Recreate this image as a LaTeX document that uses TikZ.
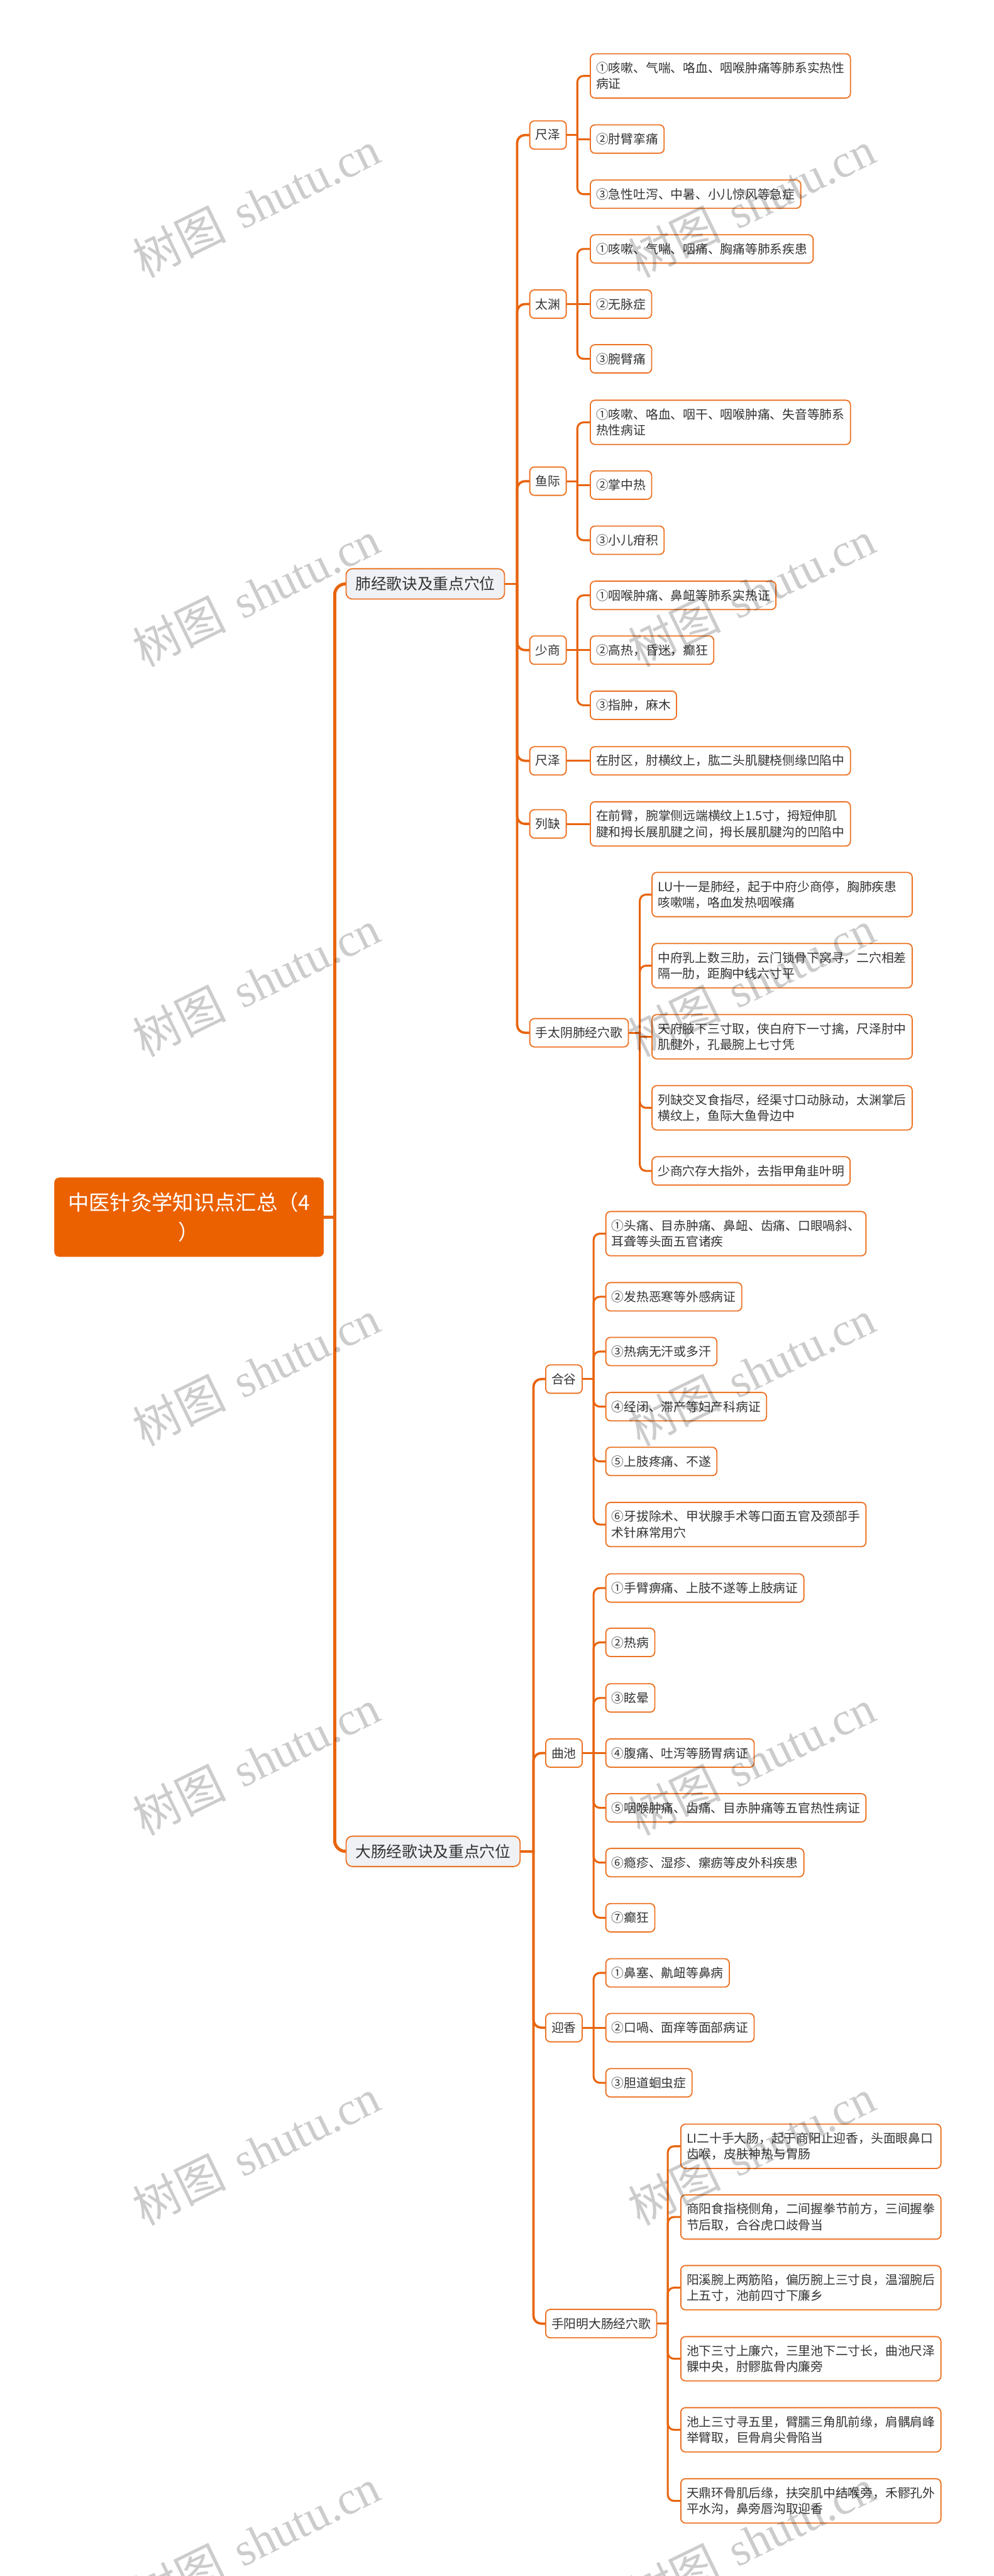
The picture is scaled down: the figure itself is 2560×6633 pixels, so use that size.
\documentclass[tikz,border=0pt]{standalone}
\usepackage{fontspec}
\setmainfont{Noto Sans CJK SC}
\newfontfamily\wmserif{Liberation Serif}
\usetikzlibrary{backgrounds}
\definecolor{lnc}{HTML}{E8640E}
\definecolor{bdc}{HTML}{EC7426}
\definecolor{rootc}{HTML}{EB6100}
\definecolor{mainc}{HTML}{EFF1F4}
\definecolor{txt}{HTML}{333333}
\newcommand{\conn}[4]{%
  \draw[#1] (#2.east) -- (#2.east -| #3);
  \draw[#1] (#2.east -| #3) |- (#4.west);
}
\begin{document}
\begin{tikzpicture}[x=0.5pt,y=-0.5pt,
  box/.style={draw=bdc, line width=1.5pt, fill=white, rounded corners=6pt, anchor=north west, inner xsep=7.5pt, inner ysep=0pt, text=txt, font=\fontsize{16pt}{20.5pt}\selectfont},
  leaf/.style={box, minimum height=36.5pt},
  leaftwo/.style={box, minimum height=57pt, text width=320pt, align=left},
  mainn/.style={box, fill=mainc, rounded corners=8pt, minimum height=39pt, inner xsep=12pt, font=\fontsize{20pt}{26pt}\selectfont},
  rootn/.style={draw=rootc, fill=rootc, rounded corners=6pt, anchor=north west, text=white, minimum width=346.5pt, minimum height=101.5pt, align=center, font=\fontsize{27pt}{37.5pt}\selectfont},
  cl1/.style={draw=lnc, line width=4pt, line cap=round, rounded corners=14pt},
  cl2/.style={draw=lnc, line width=3pt, line cap=round, rounded corners=10pt},
  cl3/.style={draw=lnc, line width=2.5pt, line cap=round, rounded corners=8pt},
  wm/.style={rotate=26, text=black, text opacity=0.2, font=\fontsize{60pt}{60pt}\selectfont}
]
\useasboundingbox (0,0) rectangle (2560,6633);

% root and main nodes
\node[rootn] (root) at (140,3032.25) {中医针灸学知识点汇总（4\\）};
\node[mainn] (fj) at (890,1463) {肺经歌诀及重点穴位};
\node[mainn] (dc) at (890,4726.5) {大肠经歌诀及重点穴位};

% ---- 肺经 ----
\node[leaf] (czA) at (1363,309.75) {尺泽};
\node[leaftwo] (czA1) at (1519,137) {①咳嗽、气喘、咯血、咽喉肿痛等肺系实热性\\病证};
\node[leaf] (czA2) at (1519,320) {②肘臂挛痛};
\node[leaf] (czA3) at (1519,462) {③急性吐泻、中暑、小儿惊风等急症};

\node[leaf] (ty) at (1363,745) {太渊};
\node[leaf] (ty1) at (1519,603) {①咳嗽、气喘、咽痛、胸痛等肺系疾患};
\node[leaf] (ty2) at (1519,745) {②无脉症};
\node[leaf] (ty3) at (1519,886) {③腕臂痛};

\node[leaf] (yj) at (1363,1201) {鱼际};
\node[leaftwo] (yj1) at (1519,1029) {①咳嗽、咯血、咽干、咽喉肿痛、失音等肺系\\热性病证};
\node[leaf] (yj2) at (1519,1211) {②掌中热};
\node[leaf] (yj3) at (1519,1353) {③小儿疳积};

\node[leaf] (ss) at (1363,1636) {少商};
\node[leaf] (ss1) at (1519,1495) {①咽喉肿痛、鼻衄等肺系实热证};
\node[leaf] (ss2) at (1519,1636) {②高热，昏迷，癫狂};
\node[leaf] (ss3) at (1519,1778) {③指肿，麻木};

\node[leaf] (czB) at (1363,1921) {尺泽};
\node[leaf] (czB1) at (1519,1921) {在肘区，肘横纹上，肱二头肌腱桡侧缘凹陷中};

\node[leaf] (lq) at (1363,2083.5) {列缺};
\node[leaftwo] (lq1) at (1519,2063) {在前臂，腕掌侧远端横纹上1.5寸，拇短伸肌\\腱和拇长展肌腱之间，拇长展肌腱沟的凹陷中};

\node[leaf] (sty) at (1363,2621.25) {手太阴肺经穴歌};
\node[leaftwo] (st1) at (1678,2245) {LU十一是肺经，起于中府少商停，胸肺疾患\\咳嗽喘，咯血发热咽喉痛};
\node[leaftwo] (st2) at (1678,2428) {中府乳上数三肋，云门锁骨下窝寻，二穴相差\\隔一肋，距胸中线六寸平};
\node[leaftwo] (st3) at (1678,2611) {天府腋下三寸取，侠白府下一寸擒，尺泽肘中\\肌腱外，孔最腕上七寸凭};
\node[leaftwo] (st4) at (1678,2794) {列缺交叉食指尽，经渠寸口动脉动，太渊掌后\\横纹上，鱼际大鱼骨边中};
\node[leaf] (st5) at (1678,2977) {少商穴存大指外，去指甲角韭叶明};

% ---- 大肠经 ----
\node[leaf] (hg) at (1404,3513) {合谷};
\node[leaftwo] (hg1) at (1559,3118) {①头痛、目赤肿痛、鼻衄、齿痛、口眼喎斜、\\耳聋等头面五官诸疾};
\node[leaf] (hg2) at (1559,3301) {②发热恶寒等外感病证};
\node[leaf] (hg3) at (1559,3442) {③热病无汗或多汗};
\node[leaf] (hg4) at (1559,3584) {④经闭、滞产等妇产科病证};
\node[leaf] (hg5) at (1559,3725) {⑤上肢疼痛、不遂};
\node[leaftwo] (hg6) at (1559,3867) {⑥牙拔除术、甲状腺手术等口面五官及颈部手\\术针麻常用穴};

\node[leaf] (qc) at (1404,4476) {曲池};
\node[leaf] (qc1) at (1559,4051) {①手臂痹痛、上肢不遂等上肢病证};
\node[leaf] (qc2) at (1559,4191) {②热病};
\node[leaf] (qc3) at (1559,4334) {③眩晕};
\node[leaf] (qc4) at (1559,4476) {④腹痛、吐泻等肠胃病证};
\node[leaf] (qc5) at (1559,4617) {⑤咽喉肿痛、齿痛、目赤肿痛等五官热性病证};
\node[leaf] (qc6) at (1559,4758) {⑥瘾疹、湿疹、瘰疬等皮外科疾患};
\node[leaf] (qc7) at (1559,4900) {⑦癫狂};

\node[leaf] (yx) at (1404,5183) {迎香};
\node[leaf] (yx1) at (1559,5042) {①鼻塞、鼽衄等鼻病};
\node[leaf] (yx2) at (1559,5183) {②口喎、面痒等面部病证};
\node[leaf] (yx3) at (1559,5325) {③胆道蛔虫症};

\node[leaf] (sym) at (1404,5945) {手阳明大肠经穴歌};
\node[leaftwo] (sy1) at (1752,5468) {LI二十手大肠，起于商阳止迎香，头面眼鼻口\\齿喉，皮肤神热与胃肠};
\node[leaftwo] (sy2) at (1752,5650) {商阳食指桡侧角，二间握拳节前方，三间握拳\\节后取，合谷虎口歧骨当};
\node[leaftwo] (sy3) at (1752,5832) {阳溪腕上两筋陷，偏历腕上三寸良，温溜腕后\\上五寸，池前四寸下廉乡};
\node[leaftwo] (sy4) at (1752,6015) {池下三寸上廉穴，三里池下二寸长，曲池尺泽\\髁中央，肘髎肱骨内廉旁};
\node[leaftwo] (sy5) at (1752,6198) {池上三寸寻五里，臂臑三角肌前缘，肩髃肩峰\\举臂取，巨骨肩尖骨陷当};
\node[leaftwo] (sy6) at (1752,6381) {天鼎环骨肌后缘，扶突肌中结喉旁，禾髎孔外\\平水沟，鼻旁唇沟取迎香};

% spine coordinates
\coordinate (S0) at (862,0);
\coordinate (S1) at (1332,0);
\coordinate (S2) at (1374,0);
\coordinate (P) at (1487,0);
\coordinate (Q) at (1648,0);
\coordinate (R) at (1529,0);
\coordinate (T) at (1720,0);

\begin{pgfonlayer}{background}
\fill[white] (0,0) rectangle (2560,6633);
% level 1
\conn{cl1}{root}{S0}{fj}
\conn{cl1}{root}{S0}{dc}
% level 2
\conn{cl2}{fj}{S1}{czA}
\conn{cl2}{fj}{S1}{ty}
\conn{cl2}{fj}{S1}{yj}
\conn{cl2}{fj}{S1}{ss}
\conn{cl2}{fj}{S1}{czB}
\conn{cl2}{fj}{S1}{lq}
\conn{cl2}{fj}{S1}{sty}
\conn{cl2}{dc}{S2}{hg}
\conn{cl2}{dc}{S2}{qc}
\conn{cl2}{dc}{S2}{yx}
\conn{cl2}{dc}{S2}{sym}
% level 3
\conn{cl3}{czA}{P}{czA1}
\conn{cl3,sharp corners}{czA}{P}{czA2}
\conn{cl3}{czA}{P}{czA3}
\conn{cl3}{ty}{P}{ty1}
\conn{cl3,sharp corners}{ty}{P}{ty2}
\conn{cl3}{ty}{P}{ty3}
\conn{cl3}{yj}{P}{yj1}
\conn{cl3,sharp corners}{yj}{P}{yj2}
\conn{cl3}{yj}{P}{yj3}
\conn{cl3}{ss}{P}{ss1}
\conn{cl3,sharp corners}{ss}{P}{ss2}
\conn{cl3}{ss}{P}{ss3}
\conn{cl3,sharp corners}{czB}{P}{czB1}
\conn{cl3,sharp corners}{lq}{P}{lq1}
\conn{cl3}{sty}{Q}{st1}
\conn{cl3}{sty}{Q}{st2}
\conn{cl3,sharp corners}{sty}{Q}{st3}
\conn{cl3}{sty}{Q}{st4}
\conn{cl3}{sty}{Q}{st5}
\conn{cl3}{hg}{R}{hg1}
\conn{cl3}{hg}{R}{hg2}
\conn{cl3}{hg}{R}{hg3}
\conn{cl3}{hg}{R}{hg4}
\conn{cl3}{hg}{R}{hg5}
\conn{cl3}{hg}{R}{hg6}
\conn{cl3}{qc}{R}{qc1}
\conn{cl3}{qc}{R}{qc2}
\conn{cl3}{qc}{R}{qc3}
\conn{cl3,sharp corners}{qc}{R}{qc4}
\conn{cl3}{qc}{R}{qc5}
\conn{cl3}{qc}{R}{qc6}
\conn{cl3}{qc}{R}{qc7}
\conn{cl3}{yx}{R}{yx1}
\conn{cl3,sharp corners}{yx}{R}{yx2}
\conn{cl3}{yx}{R}{yx3}
\conn{cl3}{sym}{T}{sy1}
\conn{cl3}{sym}{T}{sy2}
\conn{cl3}{sym}{T}{sy3}
\conn{cl3}{sym}{T}{sy4}
\conn{cl3}{sym}{T}{sy5}
\conn{cl3}{sym}{T}{sy6}
\end{pgfonlayer}

% watermarks
\foreach \wy [count=\i] in {525,1528,2531,3534,4537,5540,6543} {
  \node[wm] (wmL\i) at (660,\wy) {树图\hspace{0.35em}{\wmserif shutu.cn}};
  \node[wm] (wmR\i) at (1935,\wy) {树图\hspace{0.35em}{\wmserif shutu.cn}};
}
\end{tikzpicture}
\end{document}
